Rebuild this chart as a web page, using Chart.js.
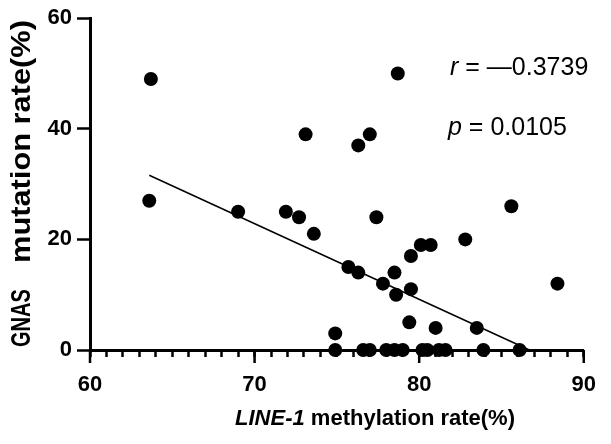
<!DOCTYPE html>
<html>
<head>
<meta charset="utf-8">
<script src="https://cdn.jsdelivr.net/npm/chart.js@4"></script>
<style>
  html, body { margin: 0; padding: 0; background: #fff; }
  #wrap { width: 611px; height: 444px; }
</style>
</head>
<body>
<div id="wrap"><canvas id="myChart" width="611" height="444"></canvas></div>
<script>
// values
const methylation = [63.7, 63.6, 69.0, 71.9, 72.7, 73.1, 73.6, 74.9, 75.7, 76.3, 76.3, 77.0, 77.4, 77.8, 78.5, 78.6, 78.7,
  79.4, 79.5, 79.5, 80.1, 80.7, 81.0, 82.8, 83.5, 85.6, 88.4,
  74.9, 76.6, 77.0, 78.0, 78.5, 79.0, 80.2, 80.5, 81.2, 81.6, 83.9, 86.1];
const mutation = [49, 27, 25, 25, 24, 39, 21, 3, 15, 37, 14, 39, 24, 12, 14, 10, 50,
  5, 17, 11, 19, 19, 4, 20, 4, 26, 12,
  0, 0, 0, 0, 0, 0, 0, 0, 0, 0, 0, 0];
const fitX = [63.6, 86.7];
const fitY = [31.6, 0];
const xTicks = [60, 70, 80, 90];
const yTicks = [0, 20, 40, 60];
const rText = '0.3739';
const pText = '0.0105';

const FONT = '"Liberation Sans", Arial, sans-serif';

const points = methylation.map((x, i) => ({ x: x, y: mutation[i] }));
const fitLine = fitX.map((x, i) => ({ x: x, y: fitY[i] }));

// draw text rotated, squeezed/stretched to a given length along the axis
function vText(ctx, txt, x, yStart, len) {
  const w = ctx.measureText(txt).width;
  ctx.save();
  ctx.translate(x, yStart);
  ctx.rotate(-Math.PI / 2);
  ctx.scale(len / w, 1);
  ctx.fillText(txt, 0, 0);
  ctx.restore();
}

// long ticks at the labelled values + axis titles + stats text
const extras = {
  id: 'extras',
  afterDraw(chart) {
    const ctx = chart.ctx;
    const xs = chart.scales.x;
    const area = chart.chartArea;
    ctx.save();
    ctx.strokeStyle = '#000';
    ctx.lineWidth = 2.5;
    xTicks.forEach(v => {
      const px = xs.getPixelForValue(v);
      ctx.beginPath();
      ctx.moveTo(px, area.bottom);
      ctx.lineTo(px, area.bottom + 13);
      ctx.stroke();
    });

    ctx.fillStyle = '#000';
    ctx.textBaseline = 'alphabetic';
    ctx.textAlign = 'left';

    // x title
    const it = 'italic bold 22px ' + FONT;
    const bd = 'bold 22px ' + FONT;
    ctx.font = it;
    const w1 = ctx.measureText('LINE-1').width;
    ctx.font = bd;
    const rest = ' methylation rate(%)';
    const w2 = ctx.measureText(rest).width;
    let sx = 515 - (w1 + w2);
    ctx.font = it;
    ctx.fillText('LINE-1', sx, 425);
    ctx.font = bd;
    ctx.fillText(rest, sx + w1, 425);

    // y title
    ctx.font = 'bold 27px ' + FONT;
    vText(ctx, 'GNAS', 30, 347, 58);
    vText(ctx, 'mutation rate(%)', 30, 263, 243);

    // stats
    const reg = '25px ' + FONT;
    const itl = 'italic 25px ' + FONT;
    ctx.font = itl;
    ctx.fillText('r', 450, 75);
    let rw = ctx.measureText('r').width;
    ctx.font = reg;
    ctx.fillText(' = \u2014' + rText, 450 + rw, 75);
    ctx.font = itl;
    ctx.fillText('p', 448, 135);
    let pw = ctx.measureText('p').width;
    ctx.font = reg;
    ctx.fillText(' = ' + pText, 448 + pw, 135);
    ctx.restore();
  }
};

const ctx = document.getElementById('myChart');

new Chart(ctx, {
  type: 'scatter',
  data: {
    datasets: [{
      data: points,
      pointRadius: 7,
      pointHoverRadius: 7,
      backgroundColor: '#000',
      borderWidth: 0,
      clip: false
    }, {
      type: 'line',
      data: fitLine,
      borderColor: '#000',
      borderWidth: 1.5,
      pointRadius: 0,
      fill: false,
      clip: false
    }]
  },
  options: {
    responsive: false,
    animation: false,
    layout: { padding: { top: 14, right: 18, left: 0, bottom: 0 } },
    plugins: { legend: { display: false }, tooltip: { enabled: false } },
    scales: {
      x: {
        type: 'linear',
        min: 60,
        max: 90,
        afterFit: s => { s.height = 94; },
        border: { display: true, color: '#000', width: 3 },
        grid: { drawOnChartArea: false, color: '#000', tickColor: '#000', tickLength: 7, tickWidth: 2.5 },
        ticks: {
          stepSize: 1,
          autoSkip: false,
          maxRotation: 0,
          padding: 15,
          color: '#000',
          font: { family: FONT, size: 22, weight: 'bold' },
          callback: v => (xTicks.includes(v) ? v : '')
        }
      },
      y: {
        min: 0,
        max: 60,
        afterFit: s => { s.width = 90; },
        border: { display: true, color: '#000', width: 3 },
        grid: { drawOnChartArea: false, color: '#000', tickColor: '#000', tickLength: 13, tickWidth: 2.5 },
        ticks: {
          stepSize: 20,
          padding: 5,
          color: '#000',
          font: { family: FONT, size: 22, weight: 'bold' },
          callback: v => (yTicks.includes(v) ? v : '')
        }
      }
    }
  },
  plugins: [extras]
});
</script>
</body>
</html>
